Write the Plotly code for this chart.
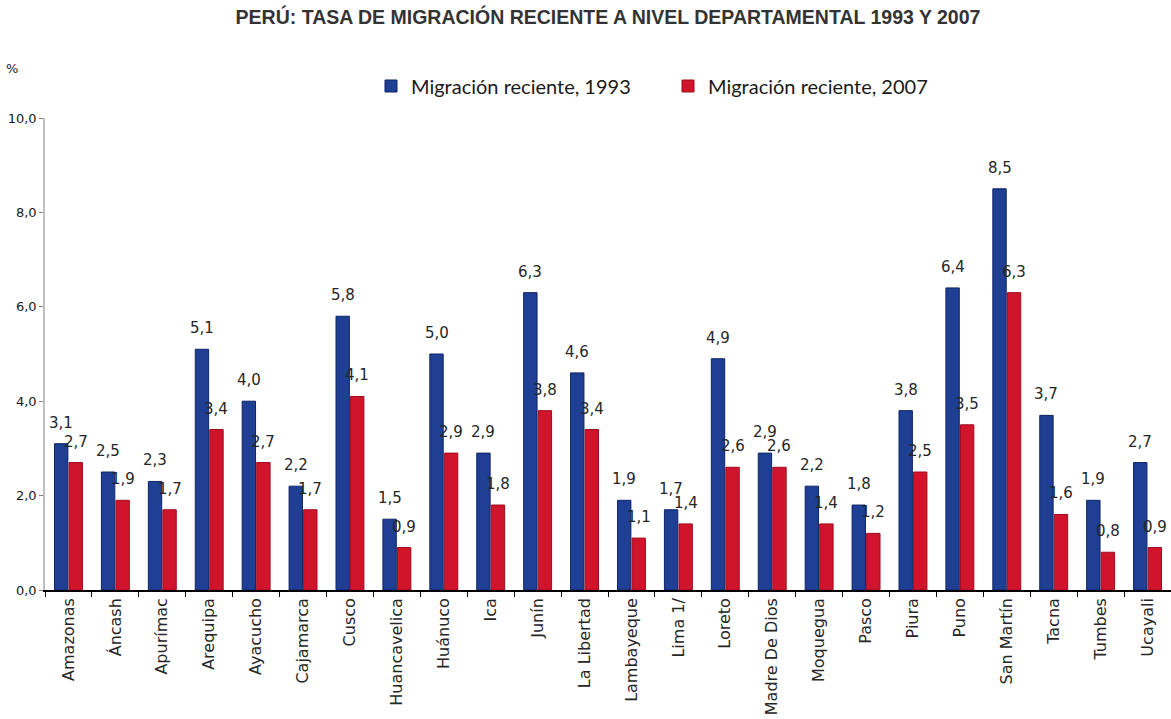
import plotly.graph_objects as go

departamentos = ["Amazonas", "Áncash", "Apurímac", "Arequipa", "Ayacucho", "Cajamarca", "Cusco",
                 "Huancavelica", "Huánuco", "Ica", "Junín", "La Libertad", "Lambayeque", "Lima 1/",
                 "Loreto", "Madre De Dios", "Moquegua", "Pasco", "Piura", "Puno", "San Martín",
                 "Tacna", "Tumbes", "Ucayali"]
mig_1993 = [3.1, 2.5, 2.3, 5.1, 4.0, 2.2, 5.8, 1.5, 5.0, 2.9, 6.3, 4.6, 1.9, 1.7, 4.9, 2.9, 2.2,
            1.8, 3.8, 6.4, 8.5, 3.7, 1.9, 2.7]
mig_2007 = [2.7, 1.9, 1.7, 3.4, 2.7, 1.7, 4.1, 0.9, 2.9, 1.8, 3.8, 3.4, 1.1, 1.4, 2.6, 2.6, 1.4,
            1.2, 2.5, 3.5, 6.3, 1.6, 0.8, 0.9]
y_ticks = [0, 2, 4, 6, 8, 10]
y_tick_text = ["0,0", "2,0", "4,0", "6,0", "8,0", "10,0"]


def fmt(v):
    return f"{v:.1f}".replace(".", ",")


W, H = 1171, 719
ML, MR, MT, MB = 45, 0, 118, 129
BARGAP = 0.38
label_font = dict(family="DejaVu Sans", size=15, color="#262626")

fig = go.Figure()
fig.add_trace(go.Bar(
    x=departamentos, y=mig_1993, name="Migración reciente, 1993",
    marker=dict(color="#1E3F94", line=dict(color="#0F2466", width=1)),
))
fig.add_trace(go.Bar(
    x=departamentos, y=mig_2007, name="Migración reciente, 2007",
    marker=dict(color="#D0142C", line=dict(color="#9E0C1E", width=1)),
))

# data labels placed above each bar (offset within the group from the bar layout)
cat_px = (W - ML - MR) / len(departamentos)
bar_off = cat_px * (1 - BARGAP) / 4
for serie, sign in ((mig_1993, -1), (mig_2007, 1)):
    for cat, v in zip(departamentos, serie):
        fig.add_annotation(x=cat, y=v, xref="x", yref="y", text=fmt(v), showarrow=False,
                           xanchor="center", yanchor="bottom", xshift=sign * bar_off, yshift=10,
                           font=label_font)

fig.update_layout(
    width=W, height=H,
    margin=dict(l=ML, r=MR, t=MT, b=MB),
    paper_bgcolor="white", plot_bgcolor="white",
    barmode="group", bargap=BARGAP, bargroupgap=0.08,
    title=dict(text="<b>PERÚ: TASA DE MIGRACIÓN RECIENTE A NIVEL DEPARTAMENTAL 1993 Y 2007</b>",
               x=0.5, xref="paper", xanchor="center", y=1 - 17 / H, yref="container", yanchor="middle",
               font=dict(family="Liberation Sans Narrow, Arial Narrow, sans-serif", size=19.5, color="#333333")),
    legend=dict(orientation="h", x=(668 - ML) / (W - ML - MR), xanchor="center",
                y=(H - MB - 86) / (H - MT - MB), yanchor="middle",
                font=dict(family="Lato, sans-serif", size=20, color="#1a1a1a"),
                itemwidth=30, traceorder="normal", tracegroupgap=0, entrywidth=252),
    showlegend=True,
    font=dict(family="DejaVu Sans", color="#262626"),
)
fig.update_xaxes(
    showline=True, linecolor="#000000", linewidth=1.5,
    ticks="outside", tickson="boundaries", ticklen=5, tickcolor="#000000",
    tickangle=-90, tickfont=dict(family="DejaVu Sans", size=16, color="#262626"),
    showgrid=False,
)
fig.update_yaxes(
    range=[0, 10], tickvals=y_ticks, ticktext=y_tick_text,
    showline=True, linecolor="#BFBFBF", linewidth=1.5,
    ticks="outside", ticklen=4, tickcolor="#808080",
    tickfont=dict(family="DejaVu Sans", size=13, color="#1a1a1a"),
    showgrid=False, zeroline=False,
)
fig.add_annotation(text="%", x=(12 - ML) / (W - ML - MR), y=(H - MB - 68) / (H - MT - MB),
                   xref="paper", yref="paper", xanchor="center", yanchor="middle", showarrow=False,
                   font=dict(family="DejaVu Sans", size=13, color="#1a1a1a"))

fig.write_html("out.html", config={"displayModeBar": False},
               post_script="document.body.style.margin='0';")
